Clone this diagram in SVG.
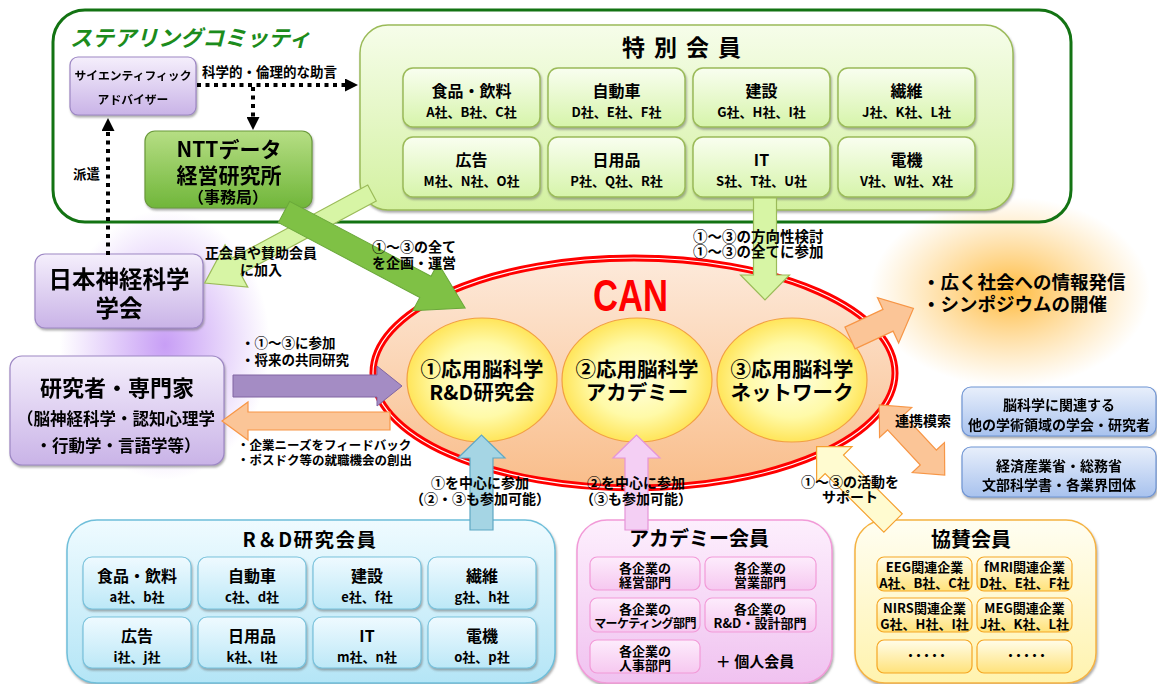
<svg xmlns="http://www.w3.org/2000/svg" width="1157" height="684" viewBox="0 0 1157 684">
<defs>
<style>
.t{font-family:"Noto Sans CJK JP","Noto Sans",sans-serif;font-weight:700;fill:#000;text-anchor:middle}
.s{text-anchor:start}
.dot{fill:none;stroke:#000;stroke-width:4;stroke-dasharray:4 4.5}
.a{font-size:16px}
.b{font-size:13px}
</style>
<filter id="sh" x="-10%" y="-10%" width="120%" height="130%"><feDropShadow dx="1" dy="2" stdDeviation="0.8" flood-color="#666" flood-opacity="0.55"/></filter>
<marker id="ah" viewBox="0 0 10 10" refX="0" refY="5" markerWidth="13" markerHeight="13" markerUnits="userSpaceOnUse" orient="auto"><path d="M0,0 L10,5 L0,10 z" fill="#000"/></marker>
<linearGradient id="gTok" x1="0" y1="0" x2="0" y2="1"><stop offset="0" stop-color="#f6fdea"/><stop offset="1" stop-color="#d3f1a0"/></linearGradient>
<linearGradient id="gTokIn" x1="0" y1="0" x2="0" y2="1"><stop offset="0" stop-color="#f9fef0"/><stop offset="1" stop-color="#d6f4aa"/></linearGradient>
<linearGradient id="gNtt" x1="0" y1="0" x2="0" y2="1"><stop offset="0" stop-color="#b6de84"/><stop offset="1" stop-color="#70b63a"/></linearGradient>
<linearGradient id="gPur" x1="0" y1="0" x2="0" y2="1"><stop offset="0" stop-color="#f5effc"/><stop offset="1" stop-color="#c9b3e7"/></linearGradient>
<linearGradient id="gRd" x1="0" y1="0" x2="0" y2="1"><stop offset="0" stop-color="#effbff"/><stop offset="1" stop-color="#b4e5f6"/></linearGradient>
<linearGradient id="gRdIn" x1="0" y1="0" x2="0" y2="1"><stop offset="0" stop-color="#effaff"/><stop offset="1" stop-color="#bce8f7"/></linearGradient>
<linearGradient id="gAc" x1="0" y1="0" x2="0" y2="1"><stop offset="0" stop-color="#fdeffd"/><stop offset="1" stop-color="#f0c2f0"/></linearGradient>
<linearGradient id="gAcIn" x1="0" y1="0" x2="0" y2="1"><stop offset="0" stop-color="#fdecfc"/><stop offset="1" stop-color="#f6c8f0"/></linearGradient>
<linearGradient id="gKy" x1="0" y1="0" x2="0" y2="1"><stop offset="0" stop-color="#fffef2"/><stop offset="1" stop-color="#fff3ae"/></linearGradient>
<linearGradient id="gKyIn" x1="0" y1="0" x2="0" y2="1"><stop offset="0" stop-color="#fffdea"/><stop offset="1" stop-color="#ffe27a"/></linearGradient>
<linearGradient id="gBl" x1="0" y1="0" x2="0" y2="1"><stop offset="0" stop-color="#e8effb"/><stop offset="1" stop-color="#a8c2ee"/></linearGradient>
<linearGradient id="gCan" x1="0" y1="0" x2="0" y2="1"><stop offset="0" stop-color="#fdeadb"/><stop offset="1" stop-color="#f9bd8a"/></linearGradient>
<radialGradient id="gYel" cx="0.5" cy="0.5" r="0.5"><stop offset="0" stop-color="#ffffe0"/><stop offset="0.6" stop-color="#fffaa8"/><stop offset="1" stop-color="#ffe55a"/></radialGradient>
<radialGradient id="gGlowP" cx="0.5" cy="0.5" r="0.5"><stop offset="0" stop-color="#b57ef2" stop-opacity="0.75"/><stop offset="1" stop-color="#b57ef2" stop-opacity="0"/></radialGradient>
<radialGradient id="gGlowO" cx="0.5" cy="0.5" r="0.5"><stop offset="0" stop-color="#ffae1a" stop-opacity="0.85"/><stop offset="1" stop-color="#ffc050" stop-opacity="0"/></radialGradient>
</defs>
<rect width="1157" height="684" fill="#fff"/>
<ellipse cx="165" cy="345" rx="105" ry="135" fill="url(#gGlowP)"/>
<ellipse cx="1010" cy="292" rx="140" ry="95" fill="url(#gGlowO)"/>

<g id="steering">
<rect x="53" y="10" width="1018" height="212" rx="32" fill="none" stroke="#137313" stroke-width="3"/>
<text class="t s" x="70" y="46" font-size="22" font-style="italic" style="fill:#1c8c1c">ステアリングコミッティ</text>
</g>

<g id="advisor" filter="url(#sh)">
<rect x="70" y="57" width="126" height="58" rx="8" fill="url(#gPur)" stroke="#9d87c4" stroke-width="1.2"/>
<text class="t" font-size="11.8"><tspan x="133" y="80">サイエンティフィック</tspan><tspan x="133" y="104">アドバイザー</tspan></text>
</g>

<g id="ntt" filter="url(#sh)">
<rect x="145" y="131" width="167" height="77" rx="10" fill="url(#gNtt)" stroke="#6a9a3a" stroke-width="1.2"/>
<text class="t" font-size="21"><tspan x="229" y="157">NTTデータ</tspan><tspan x="229" y="183">経営研究所</tspan><tspan x="228" y="203" font-size="16">（事務局）</tspan></text>
</g>

<g id="tokubetsu">
<rect x="360" y="25" width="653" height="185" rx="28" fill="url(#gTok)" stroke="#9bbb59" stroke-width="1.5" filter="url(#sh)"/>
<text class="t" x="686" y="56" font-size="23" letter-spacing="9">特別会員</text>
<g filter="url(#sh)" fill="url(#gTokIn)" stroke="#9bbb59" stroke-width="1.5">
<rect x="403" y="68" width="137" height="59" rx="10"/><rect x="548" y="68" width="137" height="59" rx="10"/><rect x="693" y="68" width="137" height="59" rx="10"/><rect x="838" y="68" width="137" height="59" rx="10"/>
<rect x="403" y="137" width="137" height="60" rx="10"/><rect x="548" y="137" width="137" height="60" rx="10"/><rect x="693" y="137" width="137" height="60" rx="10"/><rect x="838" y="137" width="137" height="60" rx="10"/>
</g>
<text class="t"><tspan class="a" x="471.5" y="97">食品・飲料</tspan><tspan class="b" x="471.5" y="117">A社、B社、C社</tspan></text>
<text class="t"><tspan class="a" x="616.5" y="97">自動車</tspan><tspan class="b" x="616.5" y="117">D社、E社、F社</tspan></text>
<text class="t"><tspan class="a" x="761.5" y="97">建設</tspan><tspan class="b" x="761.5" y="117">G社、H社、I社</tspan></text>
<text class="t"><tspan class="a" x="906.5" y="97">繊維</tspan><tspan class="b" x="906.5" y="117">J社、K社、L社</tspan></text>
<text class="t"><tspan class="a" x="471.5" y="166">広告</tspan><tspan class="b" x="471.5" y="186">M社、N社、O社</tspan></text>
<text class="t"><tspan class="a" x="616.5" y="166">日用品</tspan><tspan class="b" x="616.5" y="186">P社、Q社、R社</tspan></text>
<text class="t"><tspan class="a" x="761.5" y="166">IT</tspan><tspan class="b" x="761.5" y="186">S社、T社、U社</tspan></text>
<text class="t"><tspan class="a" x="906.5" y="166">電機</tspan><tspan class="b" x="906.5" y="186">V社、W社、X社</tspan></text>
</g>

<g id="gakkai" filter="url(#sh)">
<rect x="35" y="254" width="168" height="74" rx="10" fill="url(#gPur)" stroke="#9d87c4" stroke-width="1.2"/>
<text class="t" font-size="23.5"><tspan x="119" y="288">日本神経科学</tspan><tspan x="119" y="317">学会</tspan></text>
</g>

<g id="kenkyusha" filter="url(#sh)">
<rect x="10" y="356" width="214" height="109" rx="12" fill="url(#gPur)" stroke="#9d87c4" stroke-width="1.2"/>
<text class="t" font-size="16.5"><tspan x="117" y="396" font-size="22">研究者・専門家</tspan><tspan x="116" y="425">（脳神経科学・認知心理学</tspan><tspan x="118" y="452">・行動学・言語学等）</tspan></text>
</g>

<g id="can">
<ellipse cx="634" cy="373" rx="261" ry="115" fill="url(#gCan)" stroke="#ff0000" stroke-width="7"/>
<ellipse cx="634" cy="373" rx="261" ry="115" fill="none" stroke="#fff" stroke-width="1.2"/>
<text x="593" y="311" font-family="Liberation Sans, Arial, sans-serif" font-weight="700" font-size="44" fill="#f00" textLength="75" lengthAdjust="spacingAndGlyphs">CAN</text>
</g>

<g id="can1">
<ellipse cx="482" cy="380" rx="75" ry="62" fill="url(#gYel)" stroke="#f2a040" stroke-width="1.2"/>
<text class="t" font-size="20.5"><tspan x="482" y="377">①応用脳科学</tspan><tspan x="482" y="400">R&amp;D研究会</tspan></text>
</g>
<g id="can2">
<ellipse cx="637" cy="380" rx="75" ry="62" fill="url(#gYel)" stroke="#f2a040" stroke-width="1.2"/>
<text class="t" font-size="20.5"><tspan x="637" y="377">②応用脳科学</tspan><tspan x="637" y="400">アカデミー</tspan></text>
</g>
<g id="can3">
<ellipse cx="792" cy="380" rx="75" ry="62" fill="url(#gYel)" stroke="#f2a040" stroke-width="1.2"/>
<text class="t" font-size="20.5"><tspan x="792" y="377">③応用脳科学</tspan><tspan x="792" y="400">ネットワーク</tspan></text>
</g>

<g id="info">
<text class="t s" font-size="18.5"><tspan x="922" y="289">・広く社会への情報発信</tspan><tspan x="922" y="311">・シンポジウムの開催</tspan></text>
</g>

<g id="related" filter="url(#sh)">
<rect x="962" y="387" width="194" height="49" rx="9" fill="url(#gBl)" stroke="#6f95d4" stroke-width="1.2"/>
<text class="t" font-size="14"><tspan x="1059" y="410">脳科学に関連する</tspan><tspan x="1059" y="430">他の学術領域の学会・研究者</tspan></text>
</g>
<g id="gov" filter="url(#sh)">
<rect x="962" y="447" width="194" height="50" rx="9" fill="url(#gBl)" stroke="#6f95d4" stroke-width="1.2"/>
<text class="t" font-size="14"><tspan x="1059" y="471">経済産業省・総務省</tspan><tspan x="1059" y="490">文部科学書・各業界団体</tspan></text>
</g>

<g id="rd">
<rect x="67" y="520" width="488" height="163" rx="30" fill="url(#gRd)" stroke="#6fbfda" stroke-width="1.5" filter="url(#sh)"/>
<text class="t" x="310" y="547" font-size="19.5" letter-spacing="1.5">R＆D研究会員</text>
<g filter="url(#sh)" fill="url(#gRdIn)" stroke="#78c2dc" stroke-width="1.2">
<rect x="83" y="557" width="108" height="52" rx="9"/><rect x="198" y="557" width="108" height="52" rx="9"/><rect x="313" y="557" width="108" height="52" rx="9"/><rect x="428" y="557" width="108" height="52" rx="9"/>
<rect x="83" y="617" width="108" height="51" rx="9"/><rect x="198" y="617" width="108" height="51" rx="9"/><rect x="313" y="617" width="108" height="51" rx="9"/><rect x="428" y="617" width="108" height="51" rx="9"/>
</g>
<text class="t"><tspan class="a" x="137" y="582">食品・飲料</tspan><tspan class="b" x="137" y="602">a社、b社</tspan></text>
<text class="t"><tspan class="a" x="252" y="582">自動車</tspan><tspan class="b" x="252" y="602">c社、d社</tspan></text>
<text class="t"><tspan class="a" x="367" y="582">建設</tspan><tspan class="b" x="367" y="602">e社、f社</tspan></text>
<text class="t"><tspan class="a" x="482" y="582">繊維</tspan><tspan class="b" x="482" y="602">g社、h社</tspan></text>
<text class="t"><tspan class="a" x="137" y="642">広告</tspan><tspan class="b" x="137" y="662">i社、j社</tspan></text>
<text class="t"><tspan class="a" x="252" y="642">日用品</tspan><tspan class="b" x="252" y="662">k社、l社</tspan></text>
<text class="t"><tspan class="a" x="367" y="642">IT</tspan><tspan class="b" x="367" y="662">m社、n社</tspan></text>
<text class="t"><tspan class="a" x="482" y="642">電機</tspan><tspan class="b" x="482" y="662">o社、p社</tspan></text>
</g>

<g id="academy">
<rect x="577" y="520" width="255" height="163" rx="30" fill="url(#gAc)" stroke="#f29ad8" stroke-width="1.5" filter="url(#sh)"/>
<text class="t" x="699" y="546" font-size="20">アカデミー会員</text>
<g fill="url(#gAcIn)" stroke="#f29ad8" stroke-width="1.2">
<rect x="590" y="557" width="110" height="33" rx="7"/><rect x="705" y="557" width="111" height="33" rx="7"/>
<rect x="590" y="598" width="110" height="34" rx="7"/><rect x="705" y="598" width="111" height="34" rx="7"/>
<rect x="590" y="640" width="110" height="33" rx="7"/>
</g>
<text class="t b"><tspan x="645" y="573">各企業の</tspan><tspan x="645" y="587">経営部門</tspan></text>
<text class="t b"><tspan x="760" y="573">各企業の</tspan><tspan x="760" y="587">営業部門</tspan></text>
<text class="t b"><tspan x="645" y="614">各企業の</tspan><tspan x="645" y="628" font-size="12" letter-spacing="-0.6">マーケティング部門</tspan></text>
<text class="t b"><tspan x="760" y="614">各企業の</tspan><tspan x="760" y="628">R&amp;D・設計部門</tspan></text>
<text class="t b"><tspan x="645" y="656">各企業の</tspan><tspan x="645" y="670">人事部門</tspan></text>
<text class="t" x="755" y="667" font-size="15">＋ 個人会員</text>
</g>

<g id="kyosan">
<rect x="855" y="520" width="241" height="163" rx="30" fill="url(#gKy)" stroke="#f5b342" stroke-width="1.5" filter="url(#sh)"/>
<text class="t" x="971" y="547" font-size="20">協賛会員</text>
<g fill="url(#gKyIn)" stroke="#f5a623" stroke-width="1.2">
<rect x="877" y="557" width="95" height="34" rx="7"/><rect x="977" y="557" width="95" height="34" rx="7"/>
<rect x="877" y="598" width="95" height="34" rx="7"/><rect x="977" y="598" width="95" height="34" rx="7"/>
<rect x="877" y="640" width="95" height="33" rx="7"/><rect x="977" y="640" width="95" height="33" rx="7"/>
</g>
<text class="t b"><tspan x="924.5" y="572">EEG関連企業</tspan><tspan x="924.5" y="588">A社、B社、C社</tspan></text>
<text class="t b"><tspan x="1024.5" y="572">fMRI関連企業</tspan><tspan x="1024.5" y="588">D社、E社、F社</tspan></text>
<text class="t b"><tspan x="924.5" y="613">NIRS関連企業</tspan><tspan x="924.5" y="629">G社、H社、I社</tspan></text>
<text class="t b"><tspan x="1024.5" y="613">MEG関連企業</tspan><tspan x="1024.5" y="629">J社、K社、L社</tspan></text>
<text class="t" x="924.5" y="661" font-size="12" letter-spacing="-4">・・・・・</text>
<text class="t" x="1024.5" y="661" font-size="12" letter-spacing="-4">・・・・・</text>
</g>

<g id="connectors">
<line class="dot" x1="197" y1="85" x2="345" y2="85" marker-end="url(#ah)"/>
<line class="dot" x1="253" y1="87" x2="253" y2="117" marker-end="url(#ah)"/>
<line class="dot" x1="108" y1="255" x2="108" y2="131" marker-end="url(#ah)"/>
<polygon points="0,-9 154,-9 154,-24 190,0 154,24 154,9 0,9" transform="translate(372,193) rotate(151.7)" fill="#d7f5a5" stroke="#9bbb59" stroke-width="1.2"/>
<polygon points="0,-12 160,-12 160,-27 205,0 160,27 160,12 0,12" transform="translate(284,212) rotate(27.9)" fill="#7fc145" stroke="#6aa83a" stroke-width="1"/>
<polygon points="0,-11.5 77,-11.5 77,-24.5 102,0 77,24.5 77,11.5 0,11.5" transform="translate(765,198) rotate(90)" fill="#d7f5a5" stroke="#9bbb59" stroke-width="1.2"/>
<polygon points="0,-11 144,-11 144,-20 169,0 144,20 144,11 0,11" transform="translate(233,386)" fill="#a48cc4" stroke="#8064a2" stroke-width="1"/>
<polygon points="0,-9 142,-9 142,-19 168,0 142,19 142,9 0,9" transform="translate(390,421) rotate(180)" fill="#fbc597" stroke="#f79646" stroke-width="1.2"/>
<polygon points="0,-12 42,-12 42,-25 70,0 42,25 42,12 0,12" transform="translate(850,338) rotate(-25)" fill="#fbc597" stroke="#f79646" stroke-width="1.2"/>
<polygon points="-48,0 -24,-22 -24,-11 24,-11 24,-22 48,0 24,22 24,11 -24,11 -24,22" transform="translate(912,440) rotate(47)" fill="#fbc597" stroke="#f79646" stroke-width="1.2"/>
<polygon points="0,-13 83,-13 83,-25 108,0 83,25 83,13 0,13" transform="translate(893,523) rotate(-135)" fill="#fffbd0" stroke="#f5a030" stroke-width="1.2"/>
<polygon points="0,-11.5 72,-11.5 72,-23.5 95,0 72,23.5 72,11.5 0,11.5" transform="translate(481.5,530) rotate(-90)" fill="#a5d5e4" stroke="#5fa8c4" stroke-width="1.2"/>
<polygon points="0,-11.5 72,-11.5 72,-23.5 95,0 72,23.5 72,11.5 0,11.5" transform="translate(636.5,530) rotate(-90)" fill="#f4cff4" stroke="#e594d8" stroke-width="1.2"/>
<text class="t s" x="202" y="77" font-size="13.5">科学的・倫理的な助言</text>
<text class="t s" x="73" y="179" font-size="13.5">派遣</text>
<text class="t" font-size="14"><tspan x="261" y="258">正会員や賛助会員</tspan><tspan x="261" y="275">に加入</tspan></text>
<text class="t s" font-size="14"><tspan x="372" y="252">①～③の全て</tspan><tspan x="372" y="268">を企画・運営</tspan></text>
<text class="t s" font-size="14.5"><tspan x="693" y="242">①～③の方向性検討</tspan><tspan x="693" y="257">①～③の全てに参加</tspan></text>
<text class="t s" font-size="13.5"><tspan x="241" y="348">・①～③に参加</tspan><tspan x="241" y="365">・将来の共同研究</tspan></text>
<text class="t s" font-size="12.5"><tspan x="237" y="450">・企業ニーズをフィードバック</tspan><tspan x="237" y="465">・ポスドク等の就職機会の創出</tspan></text>
<text class="t" font-size="14"><tspan x="480" y="488">①を中心に参加</tspan><tspan x="480" y="504">（②・③も参加可能）</tspan></text>
<text class="t" font-size="14"><tspan x="636" y="488">②を中心に参加</tspan><tspan x="636" y="504">（③も参加可能）</tspan></text>
<text class="t" font-size="14"><tspan x="850" y="487">①～③の活動を</tspan><tspan x="850" y="502">サポート</tspan></text>
<text class="t" x="923" y="426" font-size="14">連携模索</text>
</g>
</svg>
